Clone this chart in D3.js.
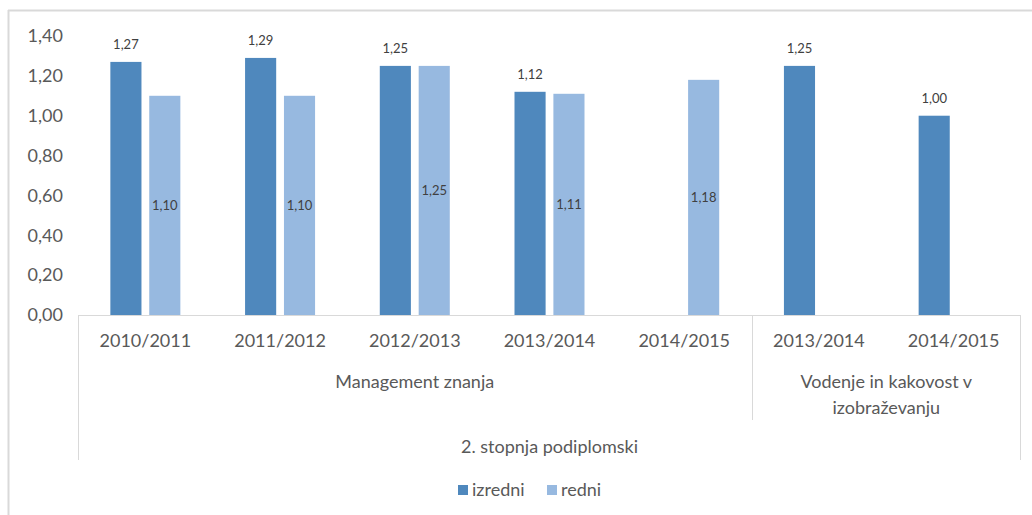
<!DOCTYPE html>
<html>
<head>
<meta charset="utf-8">
<script src="https://cdn.jsdelivr.net/npm/d3@7"></script>
<style>
    body { margin: 0; background: #fff; }
    text { font-family: Lato, "Open Sans", sans-serif; }
</style>
</head>
<body>
<svg id="chart"></svg>
<script>
// Data
const categories = ["2010/2011", "2011/2012", "2012/2013", "2013/2014", "2014/2015", "2013/2014", "2014/2015"];
const programmes = ["Management znanja", "Vodenje in kakovost v\nizobraževanju"];
const programmeSizes = [5, 2];
const level = "2. stopnja podiplomski";
const seriesNames = ["izredni", "redni"];
const izredni = [1.27, 1.29, 1.25, 1.12, null, 1.25, 1.00];
const redni = [1.10, 1.10, 1.25, 1.11, 1.18, null, null];
const yTicks = [0, 0.2, 0.4, 0.6, 0.8, 1.0, 1.2, 1.4];

function drawChart() {
    const width = 1032, height = 515;
    const colors = { izredni: "#4F88BD", redni: "#97B9E0" };
    const fmt = v => d3.format(".2f")(v).replace(".", ",");

    const svg = d3.select("#chart")
        .attr("width", width)
        .attr("height", height);

    // chart frame (only top and left edges visible)
    svg.append("line").attr("x1", 8).attr("x2", width).attr("y1", 10.5).attr("y2", 10.5)
        .attr("stroke", "#d9d9d9").attr("stroke-width", 2);
    svg.append("line").attr("x1", 8.5).attr("x2", 8.5).attr("y1", 10).attr("y2", height)
        .attr("stroke", "#d9d9d9").attr("stroke-width", 2);

    const x0 = d3.scaleBand()
        .domain(d3.range(categories.length))
        .range([78, 1021]);

    const bw = x0.bandwidth();
    const x1 = d3.scaleBand()
        .domain(seriesNames)
        .range([bw / 2 - 35, bw / 2 + 35])
        .paddingInner(0.2);

    const y = d3.scaleLinear().domain([0, 1.4]).range([315, 36]);

    // y tick labels
    svg.append("g").selectAll("text")
        .data(yTicks)
        .enter().append("text")
        .attr("x", 63)
        .attr("y", d => y(d))
        .attr("dy", "0.35em")
        .attr("text-anchor", "end")
        .attr("fill", "#595959")
        .style("font-size", "18px")
        .text(fmt);

    // bars
    const rows = categories.map((c, i) => ({ i, izredni: izredni[i], redni: redni[i] }));
    const groups = svg.append("g").selectAll("g")
        .data(rows)
        .enter().append("g")
        .attr("transform", d => `translate(${x0(d.i)},0)`);

    groups.selectAll("rect")
        .data(d => seriesNames.filter(s => d[s] != null).map(s => ({ key: s, value: d[s] })))
        .enter().append("rect")
        .attr("x", d => x1(d.key))
        .attr("width", x1.bandwidth())
        .attr("y", d => y(d.value))
        .attr("height", d => y(0) - y(d.value))
        .attr("fill", d => colors[d.key]);

    // data labels: izredni above, redni centered in bar
    groups.selectAll("text")
        .data(d => seriesNames.filter(s => d[s] != null).map(s => ({ key: s, value: d[s] })))
        .enter().append("text")
        .attr("x", d => x1(d.key) + x1.bandwidth() / 2)
        .attr("y", d => d.key === "izredni" ? y(d.value) - 17 : (y(d.value) + y(0)) / 2)
        .attr("dy", "0.35em")
        .attr("text-anchor", "middle")
        .attr("fill", "#404040")
        .style("font-size", "13px")
        .text(d => fmt(d.value));

    // axis lines
    const axis = svg.append("g").attr("stroke", "#d9d9d9").attr("stroke-width", 1);
    axis.append("line").attr("x1", 78).attr("x2", 1021).attr("y1", 315.5).attr("y2", 315.5);
    axis.append("line").attr("x1", 78.5).attr("x2", 78.5).attr("y1", 315).attr("y2", 460);
    axis.append("line").attr("x1", 1020.5).attr("x2", 1020.5).attr("y1", 315).attr("y2", 460);

    // category labels
    svg.append("g").selectAll("text")
        .data(categories)
        .enter().append("text")
        .attr("x", (d, i) => x0(i) + bw / 2)
        .attr("y", 341)
        .attr("dy", "0.35em")
        .attr("text-anchor", "middle")
        .attr("fill", "#595959")
        .style("font-size", "18px")
        .text(d => d);

    // programme labels
    let start = 0;
    programmes.forEach((p, k) => {
        const x0pos = x0(start);
        const x1pos = x0(start + programmeSizes[k] - 1) + bw;
        const lines = p.split("\n");
        const t = svg.append("text")
            .attr("text-anchor", "middle")
            .attr("fill", "#595959")
            .style("font-size", "18px");
        lines.forEach((line, j) => {
            t.append("tspan")
                .attr("x", (x0pos + x1pos) / 2)
                .attr("y", 382 + j * 26)
                .attr("dy", "0.35em")
                .text(line);
        });
        if (k > 0) {
            axis.append("line").attr("x1", Math.round(x0pos) + 0.5).attr("x2", Math.round(x0pos) + 0.5)
                .attr("y1", 315).attr("y2", 420);
        }
        start += programmeSizes[k];
    });

    // level label
    svg.append("text")
        .attr("x", (78 + 1021) / 2)
        .attr("y", 447)
        .attr("dy", "0.35em")
        .attr("text-anchor", "middle")
        .attr("fill", "#595959")
        .style("font-size", "18px")
        .text(level);

    // legend
    const legend = svg.append("g");
    const legendX = [458, 547];
    seriesNames.forEach((s, i) => {
        legend.append("rect")
            .attr("x", legendX[i]).attr("y", 485)
            .attr("width", 10).attr("height", 10)
            .attr("fill", colors[s]);
        legend.append("text")
            .attr("x", legendX[i] + 14).attr("y", 490)
            .attr("dy", "0.35em")
            .attr("fill", "#595959")
            .style("font-size", "18px")
            .text(s);
    });
}

document.addEventListener("DOMContentLoaded", () => {
    drawChart();
});
</script>
</body>
</html>
